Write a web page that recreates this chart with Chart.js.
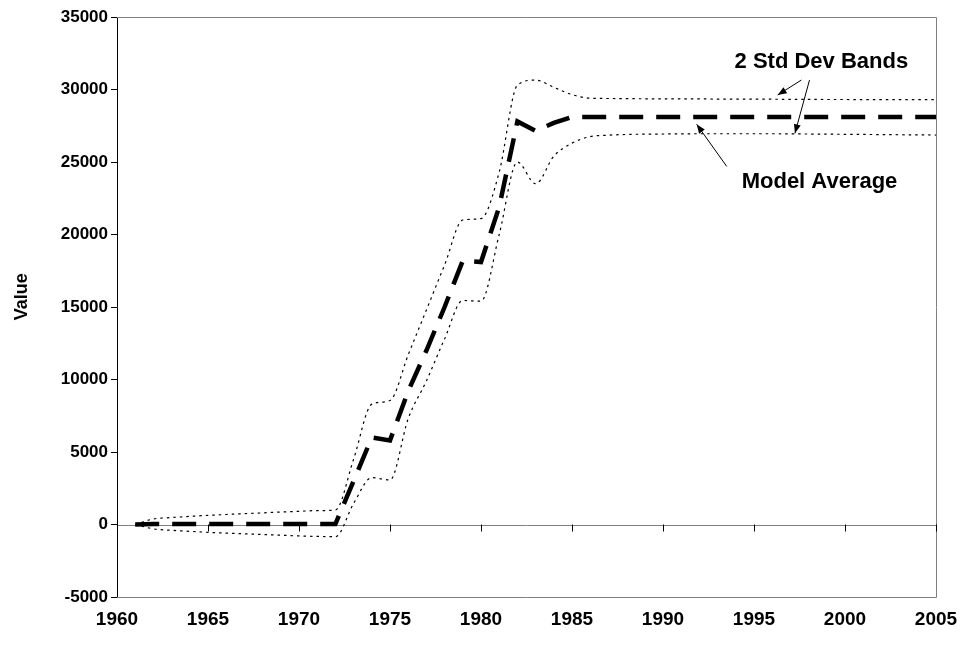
<!DOCTYPE html>
<html>
<head>
<meta charset="utf-8">
<script src="https://cdn.jsdelivr.net/npm/chart.js@4/dist/chart.umd.min.js"></script>
<style>
  html, body { margin: 0; padding: 0; background: #ffffff; }
  #wrap { width: 963px; height: 645px; position: relative; }
</style>
</head>
<body>
<div id="wrap"><canvas id="c" width="963" height="645"></canvas></div>
<script>
// ---------- data ----------
const years = [1961,1962,1963,1964,1965,1966,1967,1968,1969,1970,1971,1972,1973,1974,1975,1976,1977,1978,1979,1980,1981,1982,1983,1984,1985,1986,1987,1988,1989,1990,1991,1992,1993,1994,1995,1996,1997,1998,1999,2000,2001,2002,2003,2004,2005];

const modelAverage = [0,30,30,30,30,30,30,30,30,30,30,30,3000,6000,5800,9200,12000,15000,18200,18100,21900,27800,27150,27700,28100,28100,28100,28100,28100,28100,28100,28100,28100,28100,28100,28100,28100,28100,28100,28100,28100,28100,28100,28100,28100];

const upperBand = [0,380,480,560,630,690,750,800,860,910,960,1000,4500,8300,8550,11700,14800,17900,21000,21100,24300,30300,30650,30150,29650,29400,29380,29370,29360,29350,29350,29350,29340,29340,29330,29330,29320,29320,29310,29310,29300,29300,29300,29300,29300];

const lowerBand = [0,-300,-400,-470,-540,-590,-640,-690,-740,-790,-820,-840,1450,3230,3070,7300,9900,12800,15450,15400,20000,25000,23500,25400,26300,26750,26850,26900,26920,26930,26940,26950,26950,26950,26950,26950,26940,26930,26920,26910,26900,26890,26880,26870,26860];

const xTickLabels = ["1960","1965","1970","1975","1980","1985","1990","1995","2000","2005"];
const yTickLabels = ["-5000","0","5000","10000","15000","20000","25000","30000","35000"];
const axisTitleY = "Value";

// annotation texts and their anchors in data units (year, value)
const noteBands = { text: "2 Std Dev Bands", at: [1998.7, 31900] };
const noteAverage = { text: "Model Average", at: [1998.6, 23600] };
// arrows: [fromYear, fromValue, toYear, toValue]
const arrows = [
  [1997.6, 30650, 1996.3, 29620],
  [1998.05, 30650, 1997.25, 26980],
  [1993.5, 24700, 1991.85, 27600]
];

// ---------- chart ----------
const FONT = '"Liberation Sans", Arial, Helvetica, sans-serif';
Chart.defaults.font.family = FONT;
Chart.defaults.font.weight = 'bold';
Chart.defaults.color = '#000000';

const toPts = (vals) => years.map((y, i) => ({ x: y, y: vals[i] }));

const framePlugin = {
  id: 'frame',
  beforeDatasetsDraw(chart) {
    const { ctx, chartArea: a, scales: { x, y } } = chart;
    ctx.save();
    ctx.strokeStyle = '#808080';
    ctx.lineWidth = 1;
    ctx.beginPath();
    ctx.moveTo(a.left, Math.round(a.top) + 0.5);
    ctx.lineTo(Math.round(a.right) + 0.5, Math.round(a.top) + 0.5);
    ctx.lineTo(Math.round(a.right) + 0.5, Math.round(a.bottom) + 0.5);
    ctx.lineTo(a.left, Math.round(a.bottom) + 0.5);
    ctx.stroke();
    // zero line (category axis crossing)
    const y0 = Math.round(y.getPixelForValue(0)) + 0.5;
    ctx.beginPath();
    ctx.moveTo(a.left, y0);
    ctx.lineTo(a.right, y0);
    ctx.stroke();
    // tick marks on the zero line
    ctx.strokeStyle = '#000000';
    x.ticks.forEach(t => {
      const px = Math.round(x.getPixelForValue(t.value)) + 0.5;
      ctx.beginPath();
      ctx.moveTo(px, y0 - 1);
      ctx.lineTo(px, y0 + 6);
      ctx.stroke();
    });
    // y axis title
    ctx.fillStyle = '#000000';
    ctx.font = 'bold 18px ' + FONT;
    ctx.textAlign = 'center';
    ctx.textBaseline = 'middle';
    ctx.translate(22, y.getPixelForValue(15700));
    ctx.rotate(-Math.PI / 2);
    ctx.fillText(axisTitleY, 0, 0);
    ctx.restore();
  }
};

function drawArrow(ctx, x1, y1, x2, y2) {
  ctx.beginPath();
  ctx.moveTo(x1, y1);
  ctx.lineTo(x2, y2);
  ctx.stroke();
  const ang = Math.atan2(y2 - y1, x2 - x1);
  const L = 9, W = 3.5;
  ctx.beginPath();
  ctx.moveTo(x2, y2);
  ctx.lineTo(x2 - L * Math.cos(ang) + W * Math.sin(ang), y2 - L * Math.sin(ang) - W * Math.cos(ang));
  ctx.lineTo(x2 - L * Math.cos(ang) - W * Math.sin(ang), y2 - L * Math.sin(ang) + W * Math.cos(ang));
  ctx.closePath();
  ctx.fill();
}

const notesPlugin = {
  id: 'notes',
  afterDatasetsDraw(chart) {
    const { ctx, scales: { x, y } } = chart;
    ctx.save();
    ctx.fillStyle = '#000000';
    ctx.strokeStyle = '#000000';
    ctx.lineWidth = 1;
    ctx.font = 'bold 22px ' + FONT;
    ctx.textAlign = 'center';
    ctx.textBaseline = 'middle';
    [noteBands, noteAverage].forEach(n => {
      ctx.fillText(n.text, x.getPixelForValue(n.at[0]), y.getPixelForValue(n.at[1]));
    });
    arrows.forEach(a => {
      drawArrow(ctx, x.getPixelForValue(a[0]), y.getPixelForValue(a[1]),
                     x.getPixelForValue(a[2]), y.getPixelForValue(a[3]));
    });
    ctx.restore();
  }
};

new Chart(document.getElementById('c'), {
  type: 'line',
  data: {
    datasets: [
      {
        label: 'Upper band',
        data: toPts(upperBand),
        borderColor: '#000000',
        borderWidth: 1.2,
        borderDash: [2.5, 4],
        pointRadius: 0,
        cubicInterpolationMode: 'monotone',
        fill: false
      },
      {
        label: 'Lower band',
        data: toPts(lowerBand),
        borderColor: '#000000',
        borderWidth: 1.2,
        borderDash: [2.5, 4],
        pointRadius: 0,
        cubicInterpolationMode: 'monotone',
        fill: false
      },
      {
        label: 'Model Average',
        data: toPts(modelAverage),
        borderColor: '#000000',
        borderWidth: 4.5,
        borderDash: [24, 13],
        borderCapStyle: 'butt',
        borderJoinStyle: 'miter',
        pointRadius: 0,
        tension: 0,
        fill: false
      }
    ]
  },
  options: {
    responsive: false,
    animation: false,
    devicePixelRatio: 1,
    layout: { padding: { top: 17, right: 27, left: 0, bottom: 0 } },
    plugins: {
      legend: { display: false },
      tooltip: { enabled: false }
    },
    scales: {
      x: {
        type: 'linear',
        min: 1960,
        max: 2005,
        afterBuildTicks(scale) {
          scale.ticks = xTickLabels.map(v => ({ value: Number(v) }));
        },
        grid: { display: false },
        border: { display: false },
        ticks: {
          autoSkip: false,
          maxRotation: 0,
          padding: 3,
          font: { size: 19, weight: 'bold' },
          color: '#000000',
          callback: (v) => String(v)
        },
        afterFit(scale) { scale.height = 48; }
      },
      y: {
        type: 'linear',
        min: -5000,
        max: 35000,
        afterBuildTicks(scale) {
          scale.ticks = yTickLabels.map(v => ({ value: Number(v) }));
        },
        grid: {
          display: true,
          drawOnChartArea: false,
          drawTicks: true,
          tickLength: 6,
          tickColor: '#000000'
        },
        border: { display: true, color: '#000000', width: 1 },
        ticks: {
          padding: 3,
          font: { size: 17, weight: 'bold' },
          color: '#000000',
          callback: (v) => String(v)
        },
        title: { display: false },
        afterFit(scale) { scale.width = 117; }
      }
    }
  },
  plugins: [framePlugin, notesPlugin]
});
</script>
</body>
</html>
